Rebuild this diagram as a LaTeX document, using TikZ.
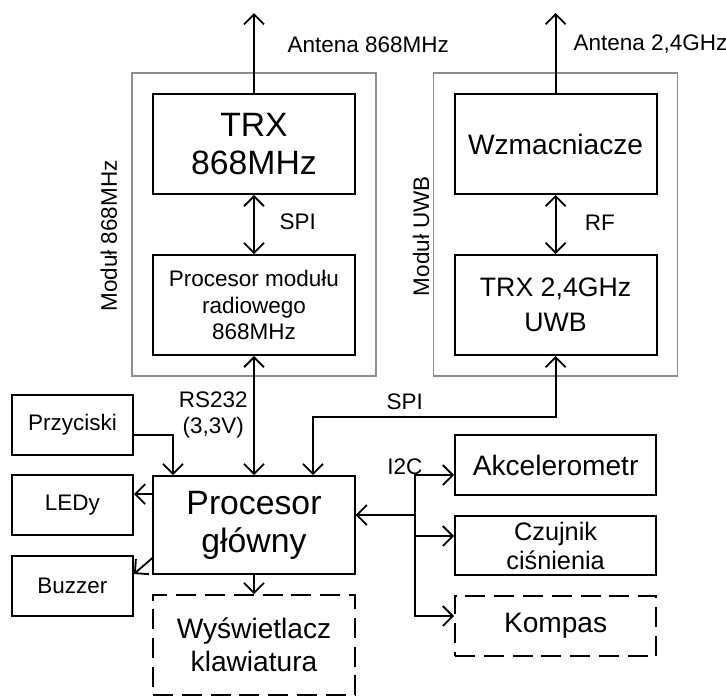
\documentclass[tikz,border=0pt]{standalone}
\usepackage{fontspec}
\setmainfont{Liberation Sans}
\usetikzlibrary{arrows.meta, calc, fit}
\definecolor{frame}{HTML}{8C8C8C}

\begin{document}
\begin{tikzpicture}[
  >={Straight Barb[length=2.5mm, width=5mm]},
  line width=1.3pt,
  blk/.style={draw, line width=1.3pt, align=center, inner sep=0pt},
  dsh/.style={blk, dash pattern=on 0.5cm off 0.22cm},
  wide/.style={minimum width=5.05cm, minimum height=2.5cm},
  slim/.style={minimum width=5.03cm, minimum height=1.5cm},
  side/.style={minimum width=3.03cm, minimum height=1.5cm},
  modul/.style={draw=frame, line width=0.9pt, inner sep=0.5cm},
  txt/.style={font=\fontsize{16}{19}\selectfont},
  big/.style={font=\fontsize{24}{27}\selectfont},
  mid/.style={font=\fontsize{20}{24}\selectfont},
]

\useasboundingbox (0,0) rectangle (18.15,-17.4);

% === Radio modules ===
\node[blk, wide, big] (trxa) at (6.35,-3.6) {TRX\\868MHz};
\node[blk, wide, txt] (proca) at (6.35,-7.625) {Procesor modułu\\radiowego\\868MHz};
\node[blk, wide, mid] (wzm) at (13.89,-3.6) {Wzmacniacze};
\node[blk, wide, font=\fontsize{19}{25}\selectfont] (trxb) at (13.89,-7.625) {TRX 2,4GHz\\UWB};

\node[modul, fit=(trxa)(proca)] (moda) {};
\node[modul, fit=(wzm)(trxb)] (modb) {};
\node[txt, rotate=90] (lmoda) at (2.72,-5.9) {Moduł 868MHz};
\node[txt, rotate=90] (lmodb) at (10.53,-5.9) {Moduł UWB};

% Antennas
\coordinate (anta) at (6.35,-0.325);
\coordinate (antb) at (13.89,-0.325);
\draw[->] (trxa.north) -- (anta);
\draw[->] (wzm.north) -- (antb);
\node[txt, anchor=west] (lanta) at (7.05,-1.12) {Antena 868MHz};
\node[txt, anchor=west] (lantb) at (14.2,-1.1) {Antena 2,4GHz};

% Inside the modules
\draw[<->] (trxa.south) -- (proca.north);
\node[txt, anchor=west] (lspia) at (6.85,-5.55) {SPI};
\draw[<->] (wzm.south) -- (trxb.north);
\node[txt, anchor=west] (lrf) at (14.48,-5.57) {RF};

% === Main processor ===
\node[blk, minimum width=5.03cm, minimum height=2.45cm, big] (proc) at (6.35,-13.125) {Procesor\\główny};
\node[dsh, wide, font=\fontsize{20}{23.5}\selectfont] (wys) at (6.35,-16.125) {Wyświetlacz\\klawiatura};

% Left column
\node[blk, side, txt] (prz) at (1.81,-10.625) {Przyciski};
\node[blk, side, txt] (led) at (1.81,-12.625) {LEDy};
\node[blk, side, txt] (buz) at (1.81,-14.65) {Buzzer};

% Right column
\node[blk, slim, mid] (akc) at (13.89,-11.625) {Akcelerometr};
\node[blk, minimum width=5.03cm, minimum height=1.475cm, font=\fontsize{18}{20.5}\selectfont] (czu) at (13.89,-13.64) {Czujnik\\ciśnienia};
\node[dsh, slim, mid] (kom) at (13.89,-15.65) {Kompas};

% === Connections ===
\draw[<->] (proca.south) -- (proc.north);
\node[txt, align=center] (lrs) at (5.33,-10.375) {RS232\\(3,3V)};

\draw[<->] (trxb.south) -- ++(0,-1.525) -| ([xshift=1.475cm]proc.north);
\node[txt] (lspib) at (10.12,-10.05) {SPI};

\draw[->] ([yshift=-0.25cm]prz.east) -| ([xshift=-2.025cm]proc.north);
\draw[->] ([yshift=-0.475cm]proc.north west) coordinate (ledtap) -- (ledtap -| led.east);
\draw[->] ([yshift=0.425cm]proc.south west) -- ([yshift=0.3cm]buz.east);
\draw[->] (proc.south) -- (wys.north);

% I2C bus
\draw[<-] ([yshift=0.25cm]proc.east) -- ++(1.49,0) coordinate (bus);
\draw[->] (bus) |- ([yshift=-0.25cm]akc.west);
\draw[->] (bus) |- ([yshift=0.24cm]czu.west);
\draw[->] (bus) |- ([yshift=0.25cm]kom.west);
\node[txt] (li2c) at (10.12,-11.67) {I2C};

\end{tikzpicture}
\end{document}
